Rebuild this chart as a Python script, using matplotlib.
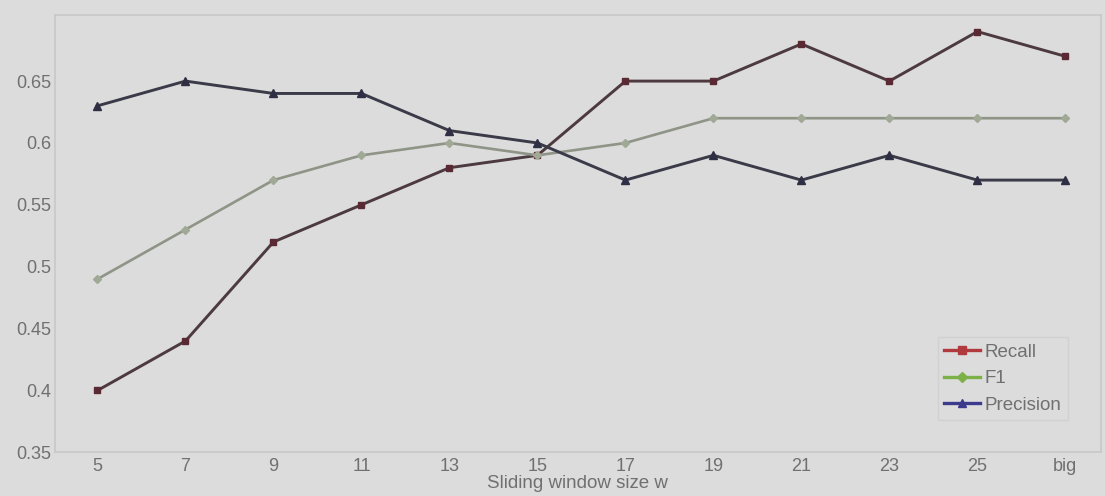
import matplotlib
matplotlib.use("Agg")
import matplotlib.pyplot as plt
from matplotlib.lines import Line2D

window_labels = ["5", "7", "9", "11", "13", "15", "17", "19", "21", "23", "25", "big"]
recall = [0.40, 0.44, 0.52, 0.55, 0.58, 0.59, 0.65, 0.65, 0.68, 0.65, 0.69, 0.67]
f1 = [0.49, 0.53, 0.57, 0.59, 0.60, 0.59, 0.60, 0.62, 0.62, 0.62, 0.62, 0.62]
precision = [0.63, 0.65, 0.64, 0.64, 0.61, 0.60, 0.57, 0.59, 0.57, 0.59, 0.57, 0.57]
y_ticks = [0.35, 0.40, 0.45, 0.50, 0.55, 0.60, 0.65]
y_tick_labels = ["0.35", "0.4", "0.45", "0.5", "0.55", "0.6", "0.65"]

plt.rcParams["font.family"] = ["Liberation Sans", "DejaVu Sans"]
bg = "#dcdcdc"
txt = "#707070"

fig = plt.figure(figsize=(11.05, 4.96), dpi=100, facecolor=bg)
ax = fig.add_axes([0.050, 0.088, 0.946, 0.882], facecolor=bg)

x = list(range(len(window_labels)))
ax.plot(x, recall, color="#4c3a40", lw=2.1, marker="s", ms=5,
        mfc="#5a2a34", mec="#5a2a34", zorder=3)
ax.plot(x, f1, color="#8e9486", lw=1.9, marker="D", ms=4.5,
        mfc="#a0a896", mec="#a0a896", zorder=3)
ax.plot(x, precision, color="#3a3a48", lw=2.1, marker="^", ms=5.5,
        mfc="#2e2e44", mec="#2e2e44", zorder=3)

ax.set_xlim(-0.48, 11.4)
ax.set_ylim(0.35, 0.7035)
ax.set_xticks(x)
ax.set_xticklabels(window_labels)
ax.set_yticks(y_ticks)
ax.set_yticklabels(y_tick_labels)
ax.tick_params(axis="x", colors="#bdbdbd", labelcolor=txt, labelsize=13,
               length=0, pad=4)
ax.tick_params(axis="y", colors="#bdbdbd", labelcolor=txt, labelsize=13,
               length=0, pad=3)
ax.set_xlabel("Sliding window size w", color=txt, fontsize=13.5, labelpad=0)

for side in ["top", "left", "right", "bottom"]:
    ax.spines[side].set_color("#c8c8c8")
    ax.spines[side].set_linewidth(1.2)

handles = [
    Line2D([], [], color="#b03a3e", lw=2.4, marker="s", ms=5.5),
    Line2D([], [], color="#7cb048", lw=2.4, marker="D", ms=5),
    Line2D([], [], color="#3c3a8c", lw=2.4, marker="^", ms=6),
]
leg = ax.legend(handles, ["Recall", "F1", "Precision"], loc="lower right",
                bbox_to_anchor=(0.978, 0.052), fontsize=13.5, frameon=True,
                handlelength=1.9, handletextpad=0.25, labelspacing=0.5,
                borderpad=0.35, fancybox=False)
leg.get_frame().set_facecolor(bg)
leg.get_frame().set_edgecolor("#cfcfcf")
for t in leg.get_texts():
    t.set_color(txt)

fig.savefig("out.png", dpi=100, facecolor=bg)
